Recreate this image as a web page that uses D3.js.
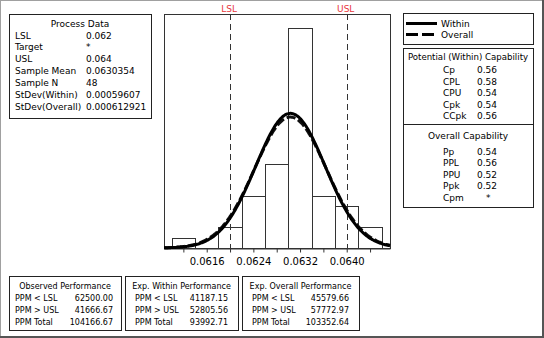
<!DOCTYPE html>
<html>
<head>
<meta charset="utf-8">
<script src="https://cdn.jsdelivr.net/npm/d3@7"></script>
<style>
  body { margin: 0; background: #fff; }
  svg { display: block; font-family: "DejaVu Sans", Verdana, sans-serif; }
</style>
</head>
<body>
<div id="chart"></div>
<script>
// histogram bins (lower edge) and counts
const binStarts = [0.0610, 0.0614, 0.0618, 0.0622, 0.0626, 0.0630, 0.0634, 0.0638, 0.0642];
const binCounts = [1, 0, 2, 5, 8, 21, 5, 4, 2];
const binWidth = 0.0004;

const tickValues = [0.0612, 0.0616, 0.0620, 0.0624, 0.0628, 0.0632, 0.0636, 0.0640, 0.0644];
const tickLabels = [0.0616, 0.0624, 0.0632, 0.0640];

const lsl = 0.062, usl = 0.064;
const sampleMean = 0.0630354, sampleN = 48;
const sdWithin = 0.00059607, sdOverall = 0.000612921;

const processRows = [
  ["LSL", "0.062"], ["Target", "*"], ["USL", "0.064"],
  ["Sample Mean", "0.0630354"], ["Sample N", "48"],
  ["StDev(Within)", "0.00059607"], ["StDev(Overall)", "0.000612921"]
];
const withinCap = [["Cp", "0.56"], ["CPL", "0.58"], ["CPU", "0.54"], ["Cpk", "0.54"], ["CCpk", "0.56"]];
const overallCap = [["Pp", "0.54"], ["PPL", "0.56"], ["PPU", "0.52"], ["Ppk", "0.52"], ["Cpm", "*"]];

const perfTables = [
  { title: "Observed Performance", rows: [["PPM < LSL", "62500.00"], ["PPM > USL", "41666.67"], ["PPM Total", "104166.67"]] },
  { title: "Exp. Within Performance", rows: [["PPM < LSL", "41187.15"], ["PPM > USL", "52805.56"], ["PPM Total", "93992.71"]] },
  { title: "Exp. Overall Performance", rows: [["PPM < LSL", "45579.66"], ["PPM > USL", "57772.97"], ["PPM Total", "103352.64"]] }
];

const width = 544, height = 338;
const svg = d3.select("#chart").append("svg")
  .attr("width", width).attr("height", height);

// window frame
svg.append("rect").attr("x", 0).attr("y", 0).attr("width", width).attr("height", height).attr("fill", "#fff");
svg.append("line").attr("x1", 0).attr("x2", width).attr("y1", 0.5).attr("y2", 0.5).attr("stroke", "#a0a0a0");
svg.append("line").attr("x1", 0.5).attr("x2", 0.5).attr("y1", 0).attr("y2", height).attr("stroke", "#a0a0a0");
svg.append("line").attr("x1", 0).attr("x2", width).attr("y1", 337).attr("y2", 337).attr("stroke", "#555").attr("stroke-width", 2);
svg.append("line").attr("x1", 543).attr("x2", 543).attr("y1", 0).attr("y2", height).attr("stroke", "#555").attr("stroke-width", 2);

// ---- histogram ----
const plot = { left: 164, right: 390, top: 14, bottom: 248 };
const x = d3.scaleLinear().domain([0.060868, 0.064742]).range([plot.left, plot.right]);
const y = d3.scaleLinear().domain([0, 22.33]).range([plot.bottom, plot.top]);

const g = svg.append("g");

g.append("rect")
  .attr("x", plot.left + 0.5).attr("y", plot.top + 0.5)
  .attr("width", plot.right - plot.left).attr("height", plot.bottom - plot.top)
  .attr("fill", "none").attr("stroke", "#333");

g.selectAll("rect.bar")
  .data(binStarts.map((s, i) => ({ s, c: binCounts[i] })).filter(d => d.c > 0))
  .join("rect").attr("class", "bar")
  .attr("x", d => Math.round(x(d.s)) + 0.5)
  .attr("y", d => Math.round(y(d.c)) + 0.5)
  .attr("width", d => Math.round(x(d.s + binWidth)) - Math.round(x(d.s)))
  .attr("height", d => Math.round(y(0)) - Math.round(y(d.c)))
  .attr("fill", "#fff").attr("stroke", "#333");

// x axis
const axis = g.append("g").attr("transform", `translate(0,${plot.bottom + 0.5})`)
  .call(d3.axisBottom(x).tickValues(tickValues).tickSizeInner(4).tickSizeOuter(0)
    .tickFormat(d => tickLabels.some(t => Math.abs(t - d) < 1e-9) ? d3.format(".4f")(d) : ""));
axis.select(".domain").attr("stroke", "#333");
axis.selectAll("line").attr("stroke", "#333");
axis.selectAll("text").attr("fill", "#000").attr("y", 9)
  .style("font-size", "10px").style("font-family", "DejaVu Sans, sans-serif");

// spec limits
[["LSL", lsl], ["USL", usl]].forEach(([name, v]) => {
  g.append("line")
    .attr("x1", Math.round(x(v)) + 0.5).attr("x2", Math.round(x(v)) + 0.5)
    .attr("y1", plot.top).attr("y2", plot.bottom)
    .attr("stroke", "#333").attr("stroke-dasharray", "6,4");
  g.append("text").attr("x", x(v) - 1).attr("y", 11.5)
    .attr("text-anchor", "middle").attr("fill", "#e8363c")
    .style("font-size", "9px").text(name);
});

// fitted normal curves (scaled to counts)
function curve(sd) {
  const k = sampleN * binWidth / (sd * Math.sqrt(2 * Math.PI));
  return d3.range(0, 201).map(i => {
    const v = x.domain()[0] + (x.domain()[1] - x.domain()[0]) * i / 200;
    const z = (v - sampleMean) / sd;
    return [v, k * Math.exp(-0.5 * z * z)];
  });
}
const line = d3.line().x(d => x(d[0])).y(d => y(d[1])).curve(d3.curveBasis);
g.append("path").datum(curve(sdOverall)).attr("d", line)
  .attr("fill", "none").attr("stroke", "#111").attr("stroke-width", 3).attr("stroke-dasharray", "9,3");
g.append("path").datum(curve(sdWithin)).attr("d", line)
  .attr("fill", "none").attr("stroke", "#000").attr("stroke-width", 3);

// ---- helpers ----
function box(x0, y0, x1, y1) {
  svg.append("rect").attr("x", x0 + 0.5).attr("y", y0 + 0.5)
    .attr("width", x1 - x0).attr("height", y1 - y0)
    .attr("fill", "#fff").attr("stroke", "#222");
}
function txt(xp, yp, s, anchor, size) {
  svg.append("text").attr("x", xp).attr("y", yp).attr("text-anchor", anchor || "start")
    .attr("fill", "#000").style("font-size", (size || 9) + "px").text(s);
}

// Process Data
box(9, 14, 151, 118);
txt(80, 27, "Process Data", "middle");
processRows.forEach((r, i) => {
  txt(15, 38.5 + i * 11.9, r[0]);
  txt(86, 38.5 + i * 11.9, r[1]);
});

// legend
box(403, 13, 533, 44);
svg.append("line").attr("x1", 406).attr("x2", 437).attr("y1", 23.5).attr("y2", 23.5)
  .attr("stroke", "#000").attr("stroke-width", 3);
svg.append("line").attr("x1", 406).attr("x2", 437).attr("y1", 34.5).attr("y2", 34.5)
  .attr("stroke", "#000").attr("stroke-width", 3).attr("stroke-dasharray", "12,4");
txt(441, 26.5, "Within");
txt(441, 37.5, "Overall");

// capability
box(403, 48, 533, 207);
svg.append("line").attr("x1", 403).attr("x2", 533).attr("y1", 124.5).attr("y2", 124.5).attr("stroke", "#222");
txt(468, 60.3, "Potential (Within) Capability", "middle", 8.6);
withinCap.forEach((r, i) => {
  txt(443, 73.3 + i * 11.5, r[0]);
  txt(477, 73.3 + i * 11.5, r[1]);
});
txt(468, 139, "Overall Capability", "middle");
overallCap.forEach((r, i) => {
  txt(443, 154.5 + i * 11.6, r[0]);
  txt(r[1] === "*" ? 486 : 477, 154.5 + i * 11.6, r[1]);
});

// performance tables
const perfX = [[9, 121, 15, 113], [125, 238, 135, 228], [242, 359, 252, 349]];
perfTables.forEach((t, j) => {
  const [x0, x1, lx, vx] = perfX[j];
  box(x0, 276, x1, 330);
  txt((x0 + x1) / 2, 288.5, t.title, "middle", 8);
  t.rows.forEach((r, i) => {
    txt(lx, 300.8 + i * 12.2, r[0], "start", 8);
    txt(vx, 300.8 + i * 12.2, r[1], "end", 8);
  });
});
</script>
</body>
</html>
